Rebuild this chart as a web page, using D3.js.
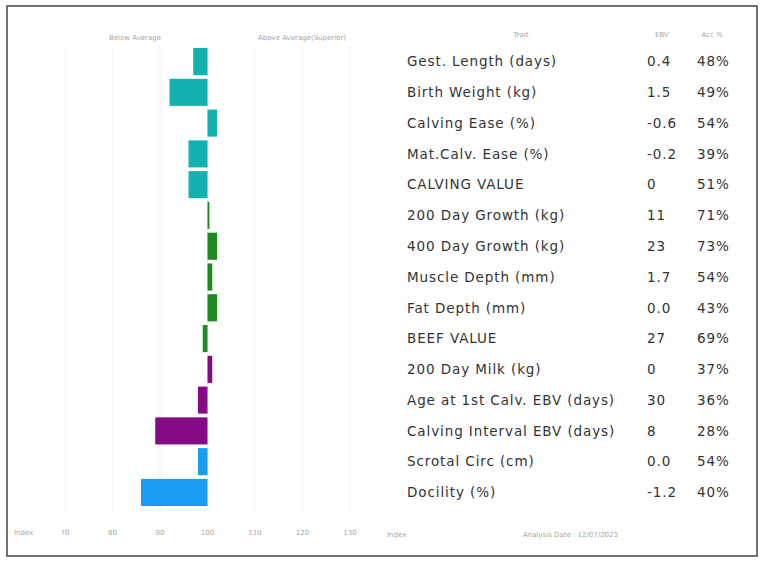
<!DOCTYPE html>
<html>
<head>
<meta charset="utf-8">
<script src="https://cdn.jsdelivr.net/npm/d3@7"></script>
<style>
  body { margin: 0; background: #fff; }
  svg { font-family: "DejaVu Sans", "Open Sans", sans-serif; }
</style>
</head>
<body>
<div id="chart"></div>
<script>
var traits = ["Gest. Length (days)", "Birth Weight (kg)", "Calving Ease (%)", "Mat.Calv. Ease (%)",
  "CALVING VALUE", "200 Day Growth (kg)", "400 Day Growth (kg)", "Muscle Depth (mm)",
  "Fat Depth (mm)", "BEEF VALUE", "200 Day Milk (kg)", "Age at 1st Calv. EBV (days)",
  "Calving Interval EBV (days)", "Scrotal Circ (cm)", "Docility (%)"];
var ebv = ["0.4", "1.5", "-0.6", "-0.2", "0", "11", "23", "1.7", "0.0", "27", "0", "30", "8", "0.0", "-1.2"];
var acc = ["48%", "49%", "54%", "39%", "51%", "71%", "73%", "54%", "43%", "69%", "37%", "36%", "28%", "54%", "40%"];
var indexVals = [97, 92, 102, 96, 96, 100.4, 102, 101, 102, 99, 101, 98, 89, 98, 86];
var groups = ["calving", "calving", "calving", "calving", "calving", "beef", "beef", "beef", "beef", "beef",
  "maternal", "maternal", "maternal", "other", "other"];
var ticks = [70, 80, 90, 100, 110, 120, 130];

var colors_group = {
  "calving": "#14b1b1",
  "beef": "#1c8a1c",
  "maternal": "#850a85",
  "other": "#1a9cf2"
};

var w = 761, h = 561;
var svg = d3.select("#chart").append("svg")
    .attr("width", w)
    .attr("height", h);

// frame
svg.append("rect")
    .attr("x", 7).attr("y", 6)
    .attr("width", 750).attr("height", 550)
    .attr("fill", "none")
    .attr("stroke", "#444")
    .attr("stroke-width", 1.5);

var x = d3.scaleLinear().domain([70, 130]).range([65, 350]);
var y = d3.scaleBand().domain(traits).range([48, 506]).paddingInner(0.12);

// grid
svg.selectAll("line.grid")
    .data(ticks)
  .enter().append("line")
    .attr("class", "grid")
    .attr("x1", function(d) { return x(d); })
    .attr("x2", function(d) { return x(d); })
    .attr("y1", 46)
    .attr("y2", 512)
    .attr("stroke", "#f3f3f3")
    .attr("stroke-width", 1);

// bars
svg.selectAll("rect.bar")
    .data(traits)
  .enter().append("rect")
    .attr("class", "bar")
    .attr("x", function(d, i) { return Math.min(x(indexVals[i]), x(100)); })
    .attr("y", function(d) { return y(d); })
    .attr("width", function(d, i) { return Math.max(1.5, Math.abs(x(indexVals[i]) - x(100))); })
    .attr("height", y.bandwidth())
    .attr("fill", function(d, i) { return colors_group[groups[i]]; });

// headers
var lightText = "#a5a5a5";
svg.append("text").attr("x", 135).attr("y", 40).attr("text-anchor", "middle")
    .attr("font-size", 7).attr("fill", lightText).text("Below Average");
svg.append("text").attr("x", 302).attr("y", 40).attr("text-anchor", "middle")
    .attr("font-size", 7).attr("fill", lightText).text("Above Average(Superior)");
svg.append("text").attr("x", 521).attr("y", 37).attr("text-anchor", "middle")
    .attr("font-size", 7).attr("fill", lightText).text("Trait");
svg.append("text").attr("x", 662).attr("y", 37).attr("text-anchor", "middle")
    .attr("font-size", 7).attr("fill", lightText).text("EBV");
svg.append("text").attr("x", 712).attr("y", 37).attr("text-anchor", "middle")
    .attr("font-size", 7).attr("fill", lightText).text("Acc %");

// table
var rows = svg.selectAll("g.row")
    .data(traits)
  .enter().append("g")
    .attr("class", "row")
    .attr("transform", function(d) { return "translate(0," + (y(d) + y.bandwidth() / 2) + ")"; })
    .attr("font-size", 13.5)
    .attr("letter-spacing", 0.9)
    .attr("fill", "#333");

rows.append("text").attr("x", 407).attr("dy", "0.35em")
    .text(function(d) { return d; });
rows.append("text").attr("x", 647).attr("dy", "0.35em")
    .text(function(d, i) { return ebv[i]; });
rows.append("text").attr("x", 697).attr("dy", "0.35em")
    .text(function(d, i) { return acc[i]; });

// bottom axis labels
svg.append("text").attr("x", 14).attr("y", 535)
    .attr("font-size", 7).attr("fill", lightText).text("Index");
svg.selectAll("text.tick")
    .data(ticks)
  .enter().append("text")
    .attr("class", "tick")
    .attr("x", function(d) { return x(d); })
    .attr("y", 535)
    .attr("text-anchor", "middle")
    .attr("font-size", 7)
    .attr("fill", lightText)
    .text(function(d) { return d; });
svg.append("text").attr("x", 387).attr("y", 537)
    .attr("font-size", 7).attr("fill", lightText).text("Index");
svg.append("text").attr("x", 523).attr("y", 537)
    .attr("font-size", 7).attr("fill", lightText).text("Analysis Date : 12/07/2023");
</script>
</body>
</html>
